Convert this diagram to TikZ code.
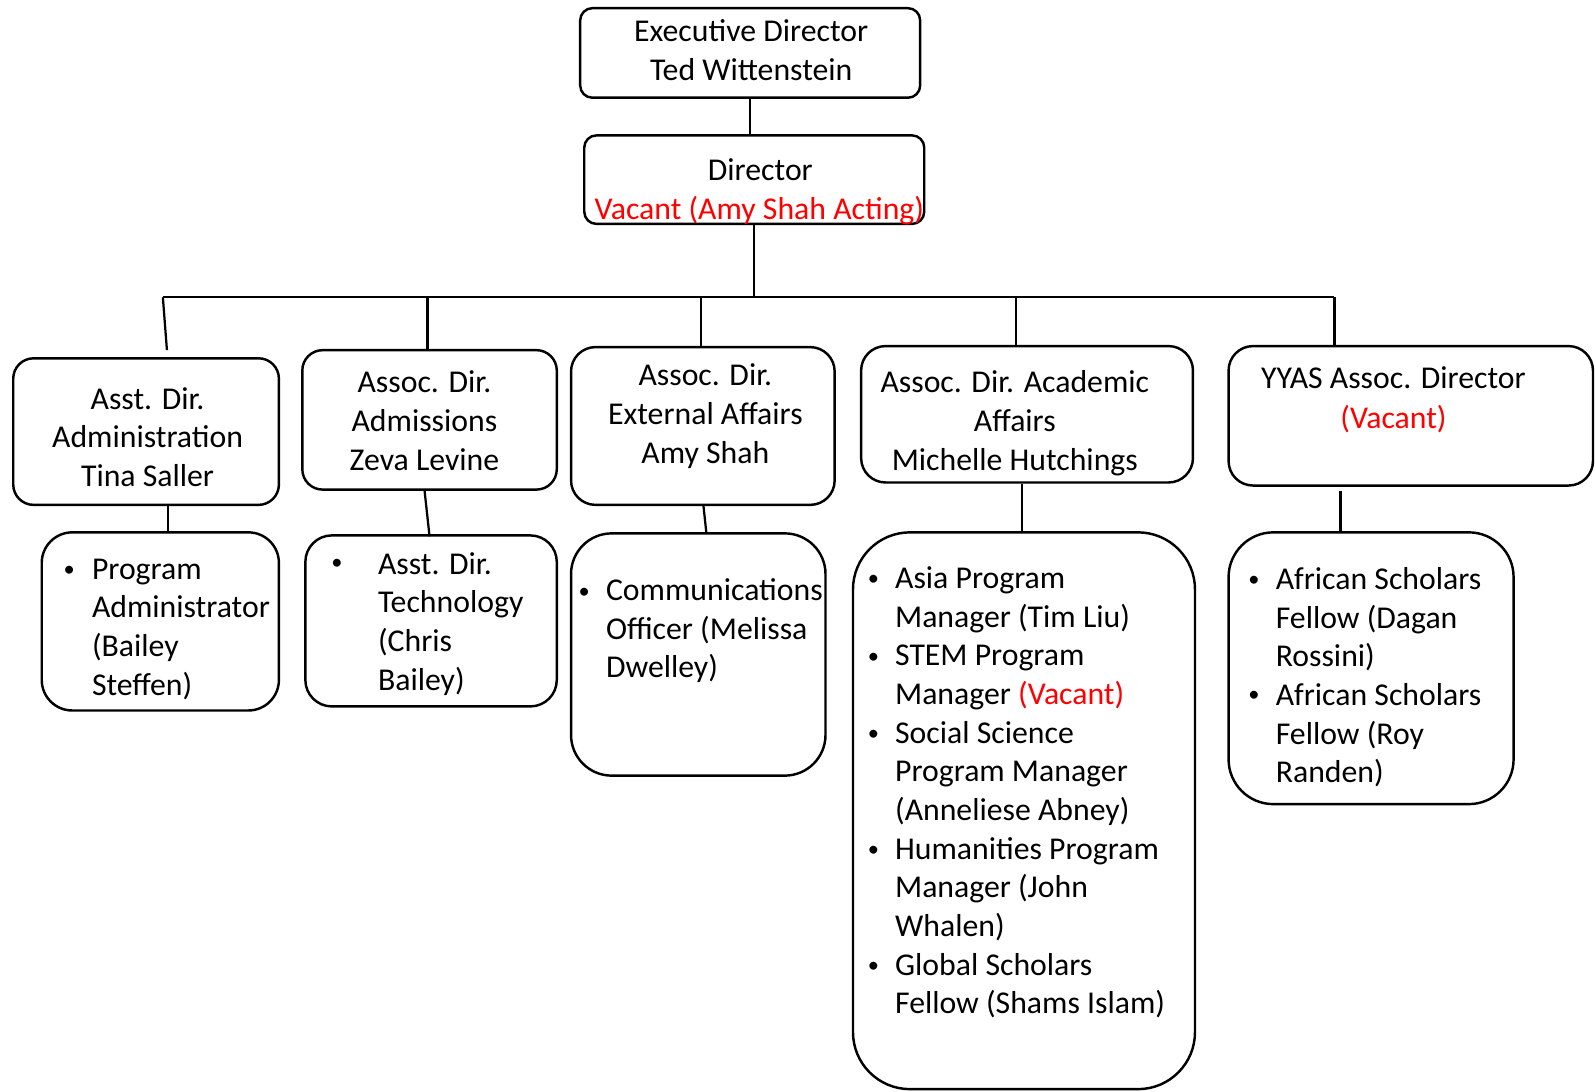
\documentclass[tikz,border=0pt]{standalone}
\usepackage{fontspec}
\setmainfont{Carlito}
\usetikzlibrary{fit}
\newcommand{\mylinesc}[1]{\begin{tabular}[t]{@{}c@{}}#1\end{tabular}}
\newcommand{\mylinesl}[1]{\begin{tabular}[t]{@{}l@{}}#1\end{tabular}}
\newcommand{\mybul}{\raisebox{1.2pt}{\fontsize{11}{19}\selectfont\textbullet}}
\begin{document}
\begin{tikzpicture}[x=0.5pt,y=-0.5pt,
  box/.style={draw, line width=1.2pt, inner sep=0pt, rounded corners=#1},
  box/.default=6pt,
  conn/.style={line width=1.1pt},
  lbl/.style={anchor=base, inner sep=0pt, font=\fontsize{15.6}{19}\selectfont},
  lst/.style={anchor=base west, inner sep=0pt, font=\fontsize{15.6}{19}\selectfont},
  bul/.style={anchor=base, inner sep=0pt}]
\useasboundingbox (0,0) rectangle (1567,1072);

% boxes
\node[box=6pt, fit={(570,8) (904,96)}] (exec) {};
\node[box=6pt, fit={(574,133) (908,220)}] (dir) {};
\node[box=10pt, fit={(13,352) (274,496)}] (b1) {};
\node[box=10pt, fit={(297,344) (547,481)}] (b2) {};
\node[box=12pt, fit={(561,341) (820,496)}] (b3) {};
\node[box=12pt, fit={(846,340) (1172,474)}] (b4) {};
\node[box=12pt, fit={(1207,340) (1565,477)}] (b5) {};
\node[box=15pt, fit={(41,523) (274,698)}] (c1) {};
\node[box=13pt, fit={(300,526) (547,694)}] (c2) {};
\node[box=20pt, fit={(561,524) (811,762)}] (c3) {};
\node[box=28pt, fit={(838,523) (1174,1070)}] (c4) {};
\node[box=22pt, fit={(1207,523) (1487,790)}] (c5) {};

% texts
\node[lbl] (texec) at (738,41) {\mylinesc{Executive Director\\Ted Wittenstein}};
\node[lbl] (tdir) at (747,177) {Director};
\node[lbl, text=red] (tdirv) at (746,216) {Vacant (Amy Shah Acting)};
\node[lbl] (tb1) at (145,402) {\mylinesc{Asst. Dir.\\Administration\\Tina Saller}};
\node[lbl] (tb2) at (417,386) {\mylinesc{Assoc. Dir.\\Admissions\\Zeva Levine}};
\node[lbl] (tb3) at (693,379) {\mylinesc{Assoc. Dir.\\External Affairs\\Amy Shah}};
\node[lbl] (tb4) at (997,386) {\mylinesc{Assoc. Dir. Academic\\Affairs\\Michelle Hutchings}};
\node[lbl] (tb5) at (1369,382) {YYAS Assoc. Director};
\node[lbl, text=red] (tb5v) at (1369,421) {(Vacant)};

\node[bul] (bc1) at (68,569) {\mybul};
\node[lst] (tc1) at (90,569) {\mylinesl{Program\\Administrator\\(Bailey\\Steffen)}};
\node[bul] (bc2) at (331,562) {\mybul};
\node[lst] (tc2) at (371,564) {\mylinesl{Asst. Dir.\\Technology\\(Chris\\Bailey)}};
\node[bul] (bc3) at (574,590) {\mybul};
\node[lst] (tc3) at (595,590) {\mylinesl{Communications\\Officer (Melissa\\Dwelley)}};
\node[bul] (bc4a) at (858,578) {\mybul};
\node[bul] (bc4b) at (858,654) {\mybul};
\node[bul] (bc4c) at (858,730) {\mybul};
\node[bul] (bc4d) at (858,844) {\mybul};
\node[bul] (bc4e) at (858,958) {\mybul};
\node[lst] (tc4) at (879,578) {\mylinesl{Asia Program\\Manager (Tim Liu)\\STEM Program\\Manager \textcolor{red}{(Vacant)}\\Social Science\\Program Manager\\(Anneliese Abney)\\Humanities Program\\Manager (John\\Whalen)\\Global Scholars\\Fellow (Shams Islam)}};
\node[bul] (bc5a) at (1232,579) {\mybul};
\node[bul] (bc5b) at (1232,692) {\mybul};
\node[lst] (tc5) at (1253,579) {\mylinesl{African Scholars\\Fellow (Dagan\\Rossini)\\African Scholars\\Fellow (Roy\\Randen)}};

% connector coordinates
\coordinate (j1) at (160,292);
\coordinate (j2) at (420,292);
\coordinate (j3) at (689,292);
\coordinate (jd) at (741,292);
\coordinate (j4) at (998,292);
\coordinate (j5) at (1311,292);
\coordinate (e1) at (164,344);
\coordinate (s2a) at (417,481);
\coordinate (s2b) at (422,527);
\coordinate (s3a) at (691,496);
\coordinate (s3b) at (694,524);
\coordinate (s5a) at (1317,482);

% connectors
\draw[conn] (exec.south) -- (exec.south |- dir.north);
\draw[conn] (dir.south -| jd) -- (jd);
\draw[conn] (j1) -- (j5);
\draw[conn] (j1) -- (e1);
\draw[conn] (j2) -- (j2 |- b2.north);
\draw[conn] (j3) -- (j3 |- b3.north);
\draw[conn] (j4) -- (j4 |- b4.north);
\draw[conn] (j5) -- (j5 |- b5.north);
\draw[conn] (b1.south -| 165,0) -- (c1.north -| 165,0);
\draw[conn] (s2a) -- (s2b);
\draw[conn] (s3a) -- (s3b);
\draw[conn] (b4.south -| 1004,0) -- (c4.north -| 1004,0);
\draw[conn] (s5a) -- (c5.north -| s5a);
\end{tikzpicture}
\end{document}
